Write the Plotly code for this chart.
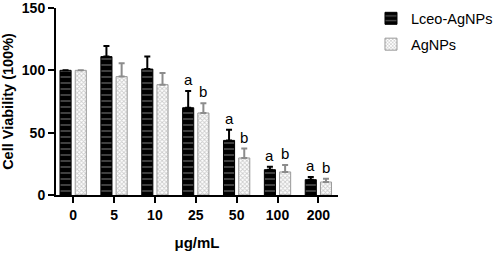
import plotly.graph_objects as go

categories = ["0", "5", "10", "25", "50", "100", "200"]
lceo_vals = [100, 111, 101, 70, 43.8, 20.3, 12.3]
lceo_err = [0, 8.6, 10, 13.5, 8.6, 2.4, 2.1]
ag_vals = [100, 95, 88.5, 65.8, 29.7, 18.5, 10.4]
ag_err = [0, 10.7, 9.4, 7.7, 7.5, 5.6, 2.7]
lceo_letters = ["", "", "", "a", "a", "a", "a"]
ag_letters = ["", "", "", "b", "b", "b", "b"]

xpos = list(range(len(categories)))
font = "Liberation Sans, Arial, sans-serif"

fig = go.Figure()
fig.add_trace(go.Bar(
    name="Lceo-AgNPs", x=xpos, y=lceo_vals, legendgroup="a",
    marker=dict(color="black", line=dict(color="black", width=1),
                pattern=dict(shape="-", bgcolor="black", fgcolor="#a8a8a8",
                             size=6, solidity=0.25, fillmode="overlay")),
    error_y=dict(type="data", symmetric=False, array=lceo_err,
                 arrayminus=[0] * len(lceo_err), color="black",
                 thickness=2, width=3),
))
fig.add_trace(go.Bar(
    name="AgNPs", x=xpos, y=ag_vals, legendgroup="b",
    marker=dict(color="white", line=dict(color="#9a9a9a", width=1),
                pattern=dict(shape="x", bgcolor="white", fgcolor="#999999",
                             size=3, solidity=0.5, fillmode="overlay")),
    error_y=dict(type="data", symmetric=False, array=ag_err,
                 arrayminus=[0] * len(ag_err), color="#8c8c8c",
                 thickness=2, width=3),
))

off = 0.186
for i in xpos:
    if lceo_letters[i]:
        fig.add_annotation(x=i - off, y=lceo_vals[i] + lceo_err[i], text=lceo_letters[i],
                           showarrow=False, yanchor="bottom", yshift=1,
                           font=dict(family=font, size=15, color="black"))
    if ag_letters[i]:
        fig.add_annotation(x=i + off, y=ag_vals[i] + ag_err[i], text=ag_letters[i],
                           showarrow=False, yanchor="bottom", yshift=1,
                           font=dict(family=font, size=15, color="black"))

fig.update_layout(
    width=498, height=253,
    margin=dict(l=56, r=160, t=8, b=58, autoexpand=False),
    plot_bgcolor="white", paper_bgcolor="white",
    barmode="group", bargap=0.256, bargroupgap=0.27,
    font=dict(family=font, color="black"),
    showlegend=True,
    legend=dict(x=1.117, y=1.03, xanchor="left", yanchor="top",
                font=dict(family=font, size=14.5, color="black"),
                traceorder="grouped", tracegroupgap=4),
    xaxis=dict(range=[-0.42, 6.48], tickmode="array", tickvals=xpos,
               ticktext=["<b>%s</b>" % c for c in categories],
               showline=True, linecolor="black", linewidth=2,
               ticks="outside", ticklen=6, tickwidth=2, tickcolor="black",
               tickfont=dict(family=font, size=14, color="black"),
               showgrid=False, zeroline=False, automargin=False,
               ticklabeloverflow="allow",
               title=dict(text="<b>μg/mL</b>", font=dict(family=font, size=15), standoff=16)),
    yaxis=dict(range=[0, 150], tickmode="array", tickvals=[0, 50, 100, 150],
               ticktext=["<b>0</b>", "<b>50</b>", "<b>100</b>", "<b>150</b>"],
               showline=True, linecolor="black", linewidth=2,
               ticks="outside", ticklen=6, tickwidth=2, tickcolor="black",
               tickfont=dict(family=font, size=14, color="black"),
               showgrid=False, zeroline=False, automargin=False,
               ticklabeloverflow="allow",
               title=dict(text="<b>Cell Viability (100%)</b>", font=dict(family=font, size=14.5), standoff=10)),
)

fig.write_html("out.html", config={"displayModeBar": False},
               post_script="document.body.style.margin='0';document.body.style.overflow='hidden';")
